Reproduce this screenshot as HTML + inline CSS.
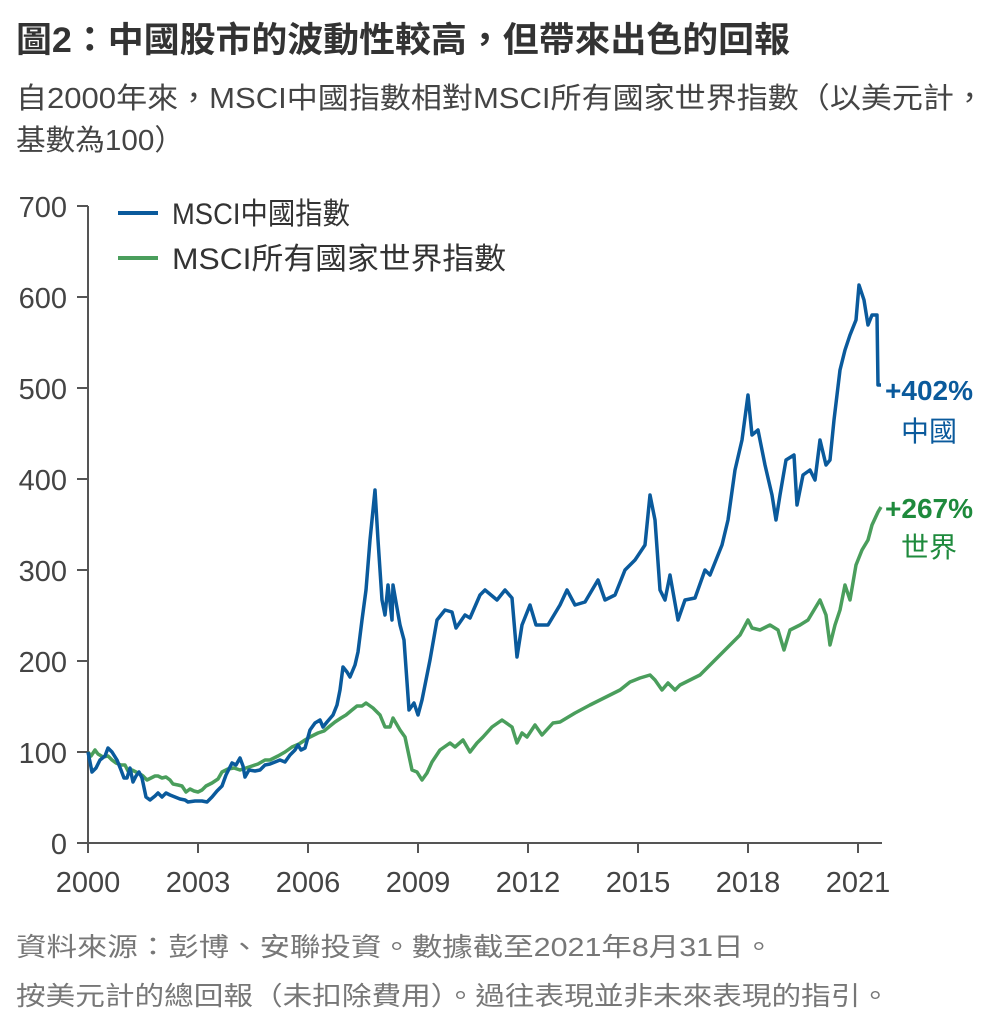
<!DOCTYPE html><html><head><meta charset="utf-8"><style>
body{margin:0;background:#fff;width:1000px;height:1030px;overflow:hidden;font-family:"Liberation Sans","Noto Sans CJK TC",sans-serif;color:#333}
</style></head><body>
<svg width="1000" height="1030" xmlns="http://www.w3.org/2000/svg" style="font-family:'Liberation Sans','Noto Sans CJK TC',sans-serif">
<text x="16" y="52" font-size="35" font-weight="bold" fill="#333" textLength="774" lengthAdjust="spacingAndGlyphs">圖2：中國股市的波動性較高，但帶來出色的回報</text>
<text x="16" y="108" font-size="29" fill="#444" textLength="969" lengthAdjust="spacingAndGlyphs">自2000年來，MSCI中國指數相對MSCI所有國家世界指數（以美元計，</text>
<text x="16" y="150" font-size="29" fill="#444" textLength="168" lengthAdjust="spacingAndGlyphs">基數為100）</text>
<g stroke="#555" stroke-width="2" fill="none">
<line x1="88" y1="206" x2="88" y2="843"/><line x1="88" y1="843" x2="882" y2="843"/>
<line x1="77" y1="206" x2="88" y2="206"/><line x1="77" y1="297" x2="88" y2="297"/><line x1="77" y1="388" x2="88" y2="388"/><line x1="77" y1="479" x2="88" y2="479"/><line x1="77" y1="570" x2="88" y2="570"/><line x1="77" y1="661" x2="88" y2="661"/><line x1="77" y1="752" x2="88" y2="752"/><line x1="77" y1="843" x2="88" y2="843"/>
<line x1="88" y1="843" x2="88" y2="853"/><line x1="198" y1="843" x2="198" y2="853"/><line x1="308" y1="843" x2="308" y2="853"/><line x1="418" y1="843" x2="418" y2="853"/><line x1="528" y1="843" x2="528" y2="853"/><line x1="638" y1="843" x2="638" y2="853"/><line x1="748" y1="843" x2="748" y2="853"/><line x1="858" y1="843" x2="858" y2="853"/>
</g>
<g font-size="29" fill="#444" text-anchor="end">
<text x="67" y="217">700</text><text x="67" y="308">600</text><text x="67" y="399">500</text><text x="67" y="490">400</text><text x="67" y="581">300</text><text x="67" y="672">200</text><text x="67" y="763">100</text><text x="67" y="854">0</text>
</g>
<g font-size="29" fill="#444" text-anchor="middle">
<text x="88" y="892">2000</text><text x="198" y="892">2003</text><text x="308" y="892">2006</text><text x="418" y="892">2009</text><text x="528" y="892">2012</text><text x="638" y="892">2015</text><text x="748" y="892">2018</text><text x="858" y="892">2021</text>
</g>
<line x1="118" y1="213" x2="158" y2="213" stroke="#0a5a9c" stroke-width="4"/>
<line x1="118" y1="258" x2="158" y2="258" stroke="#4a9e5c" stroke-width="4"/>
<text x="172" y="224" font-size="30" fill="#333" textLength="178" lengthAdjust="spacingAndGlyphs">MSCI中國指數</text>
<text x="172" y="269" font-size="30" fill="#333" textLength="334" lengthAdjust="spacingAndGlyphs">MSCI所有國家世界指數</text>
<polyline fill="none" stroke="#4a9e5c" stroke-width="3.5" stroke-linejoin="round" points="88,752 91,756 95,750 98,754 103,757 108,756 112,760 116,763 121,765 125,765 128,771 132,770 136,772 140,774 143,776 147,780 151,778 155,776 158,776 162,778 166,777 170,780 173,784 178,785 182,786 186,792 190,789 194,791 198,792 202,790 206,786 212,783 218,779 222,772 228,769 234,768 240,770 246,768 252,766 258,764 265,760 270,760 278,756 285,752 292,747 299,744 305,740 310,737 318,733 324,731 330,726 335,722 341,718 346,715 352,710 357,706 362,706 366,703 373,708 380,715 385,727 390,727 393,718 400,730 405,737 412,770 417,772 422,780 427,773 432,762 440,750 450,743 455,747 463,740 470,752 477,743 483,737 492,727 502,720 512,727 517,743 522,733 527,737 535,725 542,735 553,723 560,722 575,713 590,705 600,700 610,695 620,690 630,682 640,678 650,675 655,680 662,690 668,683 675,690 680,685 690,680 700,675 710,665 720,655 730,645 740,635 748,620 752,628 760,630 770,625 778,630 784,650 790,630 800,625 808,620 814,610 820,600 826,615 830,645 835,625 840,610 845,585 850,600 856,565 862,550 868,540 872,525 878,512 881,507"/>
<polyline fill="none" stroke="#0a5a9c" stroke-width="3.5" stroke-linejoin="round" points="88,752 92,772 96,768 100,760 105,756 108,748 112,752 117,760 121,770 124,778 127,778 130,768 133,782 136,776 139,772 142,778 146,797 150,800 155,796 158,793 162,797 166,793 170,795 175,797 180,799 185,800 188,802 195,801 202,801 207,802 212,797 217,791 222,786 226,775 232,763 236,765 240,758 243,766 245,777 249,770 255,771 260,770 265,765 270,764 275,762 280,760 285,762 290,755 295,750 298,745 301,750 305,748 310,730 315,723 320,720 323,727 327,722 333,715 337,705 340,690 343,667 347,672 350,677 355,665 358,652 362,620 366,590 370,540 375,490 378,540 382,600 385,615 388,585 392,620 393,585 400,625 404,640 409,710 414,703 418,715 422,700 430,660 437,620 445,610 452,612 456,628 465,615 470,618 480,595 485,590 497,600 505,590 512,598 517,657 522,625 530,605 536,625 548,625 560,605 567,590 575,605 585,602 598,580 605,600 615,595 625,570 635,560 645,545 650,495 655,520 660,590 665,600 670,575 678,620 685,600 695,598 705,570 710,575 718,555 722,545 728,520 735,470 742,440 748,395 752,435 758,430 765,465 772,495 776,520 780,495 786,460 794,455 797,505 803,475 810,470 815,480 820,440 826,465 830,460 834,420 840,370 845,350 850,335 856,320 859,285 864,300 868,325 872,315 877,315 878,385 881,385"/>
<g font-size="28" text-anchor="middle">
<text x="929" y="400" fill="#0a5a9c" font-weight="bold">+402%</text>
<text x="929" y="441" fill="#0a5a9c">中國</text>
<text x="929" y="518" fill="#1e8a3c" font-weight="bold">+267%</text>
<text x="929" y="557" fill="#1e8a3c">世界</text>
</g>
<text x="16" y="956" font-size="26" fill="#777" textLength="758" lengthAdjust="spacingAndGlyphs">資料來源：彭博、安聯投資。數據截至2021年8月31日。</text>
<text x="16" y="1005" font-size="26" fill="#777" textLength="874" lengthAdjust="spacingAndGlyphs">按美元計的總回報（未扣除費用）。過往表現並非未來表現的指引。</text>
</svg>
</body></html>
